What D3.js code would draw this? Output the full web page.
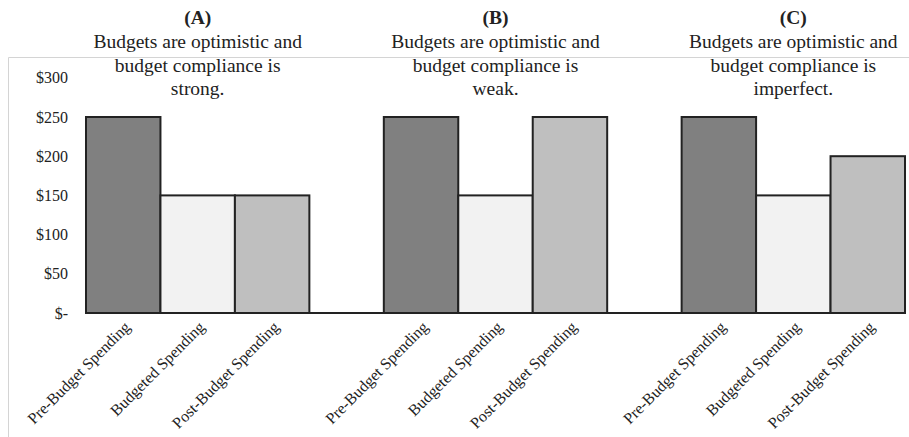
<!DOCTYPE html>
<html>
<head>
<meta charset="utf-8">
<script src="https://cdn.jsdelivr.net/npm/d3@7"></script>
<style>
  body { margin: 0; background: #fff; }
  svg text { font-family: "Liberation Serif", "Times New Roman", serif; fill: #222; }
</style>
</head>
<body>
<div id="chart"></div>
<script>
var scenarios = ['A', 'B', 'C'];
var titles = [
  ['Budgets are optimistic and', 'budget compliance is', 'strong.'],
  ['Budgets are optimistic and', 'budget compliance is', 'weak.'],
  ['Budgets are optimistic and', 'budget compliance is', 'imperfect.']
];
var seriesNames = ['Pre-Budget Spending', 'Budgeted Spending', 'Post-Budget Spending'];
var preBudget = [250, 250, 250];
var budgeted = [150, 150, 150];
var postBudget = [150, 250, 200];
var yTicks = [0, 50, 100, 150, 200, 250, 300];

var width = 909;
var height = 437;
var colors = ['#808080', '#f2f2f2', '#bfbfbf'];

var series = [preBudget, budgeted, postBudget];
var rows = [];
scenarios.forEach(function(s, i) {
  seriesNames.forEach(function(n, j) {
    rows.push({ group: s, name: n, idx: j, value: series[j][i] });
  });
});

var svg = d3.select('#chart')
  .append('svg')
  .attr('width', width)
  .attr('height', height);

// faint outer border (top and left)
svg.append('path')
  .attr('d', 'M8.5,' + height + 'V57.5H' + width)
  .attr('fill', 'none')
  .attr('stroke', '#d4d4d4')
  .attr('stroke-width', 1);

/* Scales */
var x0 = d3.scaleBand()
  .domain(scenarios)
  .range([86, 905])
  .paddingInner(0.25)
  .paddingOuter(0);

var x1 = d3.scaleBand()
  .domain(seriesNames)
  .range([0, x0.bandwidth()])
  .padding(0);

var y = d3.scaleLinear()
  .domain([0, 300])
  .range([313, 77.8]);

/* Y axis */
var yAxis = d3.axisLeft(y)
  .tickValues(yTicks)
  .tickSize(0)
  .tickPadding(0)
  .tickFormat(d => d === 0 ? '$-' : '$' + d);

svg.append('g')
  .attr('class', 'y axis')
  .attr('transform', 'translate(68,0)')
  .call(yAxis)
  .call(g => g.select('.domain').remove())
  .selectAll('text')
  .style('font-size', '16px')
  .attr('fill', '#333');

/* Bars */
svg.append('g')
  .selectAll('rect')
  .data(rows)
  .enter()
  .append('rect')
  .attr('x', d => x0(d.group) + x1(d.name))
  .attr('y', d => y(d.value))
  .attr('width', x1.bandwidth())
  .attr('height', d => y(0) - y(d.value))
  .attr('fill', d => colors[d.idx])
  .attr('stroke', '#222')
  .attr('stroke-width', 2);

/* Baseline */
svg.append('line')
  .attr('x1', x0.range()[0])
  .attr('x2', x0.range()[1])
  .attr('y1', y(0))
  .attr('y2', y(0))
  .attr('stroke', '#222')
  .attr('stroke-width', 2);

/* Category labels, rotated */
svg.append('g')
  .selectAll('text')
  .data(rows)
  .enter()
  .append('text')
  .attr('text-anchor', 'end')
  .attr('transform', d => {
    var cx = x0(d.group) + x1(d.name) + x1.bandwidth() / 2 + 8;
    return 'translate(' + cx + ',' + (y(0) + 15) + ') rotate(-45)';
  })
  .style('font-size', '16px')
  .attr('fill', '#333')
  .text(d => d.name);

/* Panel titles */
var tg = svg.append('g')
  .selectAll('g')
  .data(scenarios)
  .enter()
  .append('g')
  .attr('transform', d => 'translate(' + (x0(d) + x0.bandwidth() / 2) + ',0)');

tg.append('text')
  .attr('text-anchor', 'middle')
  .attr('y', 24)
  .style('font-size', '19.5px')
  .style('font-weight', 'bold')
  .text(d => '(' + d + ')');

tg.each(function(d, i) {
  d3.select(this)
    .selectAll('.line')
    .data(titles[i])
    .enter()
    .append('text')
    .attr('class', 'line')
    .attr('text-anchor', 'middle')
    .attr('y', (t, k) => 48 + k * 23.5)
    .style('font-size', '19.5px')
    .text(t => t);
});
</script>
</body>
</html>
